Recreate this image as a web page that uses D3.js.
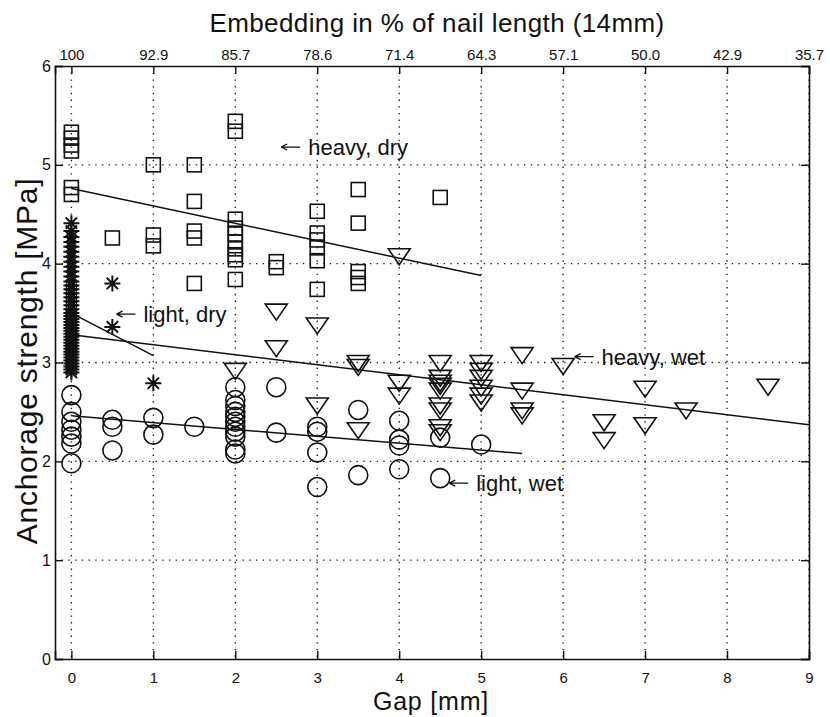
<!DOCTYPE html>
<html>
<head>
<meta charset="utf-8">
<script src="https://cdn.jsdelivr.net/npm/d3@7"></script>
<style>
    body { margin: 0; background: #fff; }
    text { font-family: "Liberation Sans", Arial, sans-serif; fill: #111; }
</style>
</head>
<body>
<svg id="gfx" width="830" height="717"></svg>
<script>
// gap [mm] and anchorage strength [MPa] per series
const heavyDryGap = [0, 0, 0, 0, 0, 0, 0.5, 1, 1, 1, 1.5, 1.5, 1.5, 1.5, 1.5,
    2, 2, 2, 2, 2, 2, 2, 2, 2, 2, 2.5, 2.5, 3, 3, 3, 3, 3, 3, 3.5, 3.5, 3.5, 3.5, 3.5, 4.5];
const heavyDryVal = [5.33, 5.27, 5.2, 5.14, 4.77, 4.7, 4.26, 5.0, 4.29, 4.18, 5.0, 4.63, 4.33, 4.26, 3.8,
    5.44, 5.34, 4.45, 4.36, 4.3, 4.22, 4.15, 4.09, 4.04, 3.84, 4.02, 3.96, 4.53, 4.31, 4.24, 4.16, 4.03, 3.74,
    4.75, 4.41, 3.92, 3.86, 3.8, 4.67];

const lightDryGap = [0, 0, 0, 0, 0, 0, 0, 0, 0, 0, 0, 0, 0, 0, 0, 0, 0, 0, 0, 0,
    0, 0, 0, 0, 0, 0, 0, 0, 0, 0, 0, 0, 0, 0, 0, 0, 0, 0, 0, 0,
    0.5, 0.5, 1];
const lightDryVal = [4.41, 4.33, 4.27, 4.22, 4.17, 4.12, 4.07, 4.02, 3.97, 3.92, 3.87, 3.82, 3.78, 3.74, 3.7,
    3.66, 3.62, 3.58, 3.54, 3.5, 3.47, 3.44, 3.41, 3.38, 3.35, 3.32, 3.29, 3.26, 3.23, 3.2,
    3.17, 3.14, 3.11, 3.08, 3.05, 3.02, 2.99, 2.96, 2.93, 2.9,
    3.8, 3.36, 2.79];

const heavyWetGap = [2, 2.5, 2.5, 3, 3, 3.5, 3.5, 3.5, 4, 4, 4,
    4.5, 4.5, 4.5, 4.5, 4.5, 4.5, 4.5, 4.5, 4.5, 5, 5, 5, 5, 5, 5,
    5.5, 5.5, 5.5, 5.5, 6, 6.5, 6.5, 7, 7, 7.5, 8.5];
const heavyWetVal = [2.92, 3.52, 3.15, 3.38, 2.57, 3.0, 2.96, 2.32, 4.08, 2.8, 2.67,
    3.0, 2.85, 2.8, 2.77, 2.72, 2.57, 2.52, 2.35, 2.3, 3.0, 2.92, 2.85, 2.75, 2.67, 2.6,
    3.08, 2.72, 2.52, 2.47, 2.97, 2.4, 2.22, 2.74, 2.37, 2.52, 2.76];

const lightWetGap = [0, 0, 0, 0, 0, 0, 0, 0.5, 0.5, 0.5, 1, 1, 1.5,
    2, 2, 2, 2, 2, 2, 2, 2, 2, 2, 2, 2.5, 2.5, 3, 3, 3, 3, 3.5, 3.5,
    4, 4, 4, 4, 4.5, 4.5, 5];
const lightWetVal = [2.67, 2.5, 2.4, 2.32, 2.25, 2.18, 1.98, 2.42, 2.35, 2.11, 2.44, 2.27, 2.35,
    2.75, 2.62, 2.56, 2.5, 2.45, 2.4, 2.35, 2.3, 2.25, 2.12, 2.08, 2.75, 2.29, 2.35, 2.3, 2.09, 1.74, 2.52, 1.86,
    2.41, 2.22, 2.16, 1.92, 2.24, 1.83, 2.17];

// fitted lines: [gap start, gap end], [value start, value end]
const fitHeavyDry = [[0, 5], [4.76, 3.88]];
const fitLightDry = [[0, 1], [3.5, 3.07]];
const fitHeavyWet = [[0, 9], [3.28, 2.37]];
const fitLightWet = [[0, 5.5], [2.46, 2.08]];

// labels and where their arrows point (gap, value)
const noteText = ["heavy, dry", "light, dry", "heavy, wet", "light, wet"];
const noteGap = [2.56, 0.55, 6.14, 4.61];
const noteVal = [5.18, 3.49, 3.06, 1.78];

const gapTicks = [0, 1, 2, 3, 4, 5, 6, 7, 8, 9];
const embedLabels = ["100", "92.9", "85.7", "78.6", "71.4", "64.3", "57.1", "50.0", "42.9", "35.7"];
const valueTicks = [0, 1, 2, 3, 4, 5, 6];

const gfx = { left: 55, right: 809, top: 66, bottom: 659 };
const svg = d3.select("#gfx");

const x = d3.scaleLinear().domain([-0.2, 9]).range([gfx.left, gfx.right]);
const y = d3.scaleLinear().domain([0, 6]).range([gfx.bottom, gfx.top]);

// dotted grid
const grid = svg.append("g").attr("stroke", "#222").attr("stroke-width", 1.4)
    .attr("stroke-dasharray", "1.4,5.3");
grid.selectAll("line.gx").data(gapTicks).enter().append("line")
    .attr("x1", d => x(d)).attr("x2", d => x(d))
    .attr("y1", gfx.top).attr("y2", gfx.bottom);
grid.selectAll("line.gy").data(valueTicks.slice(1, -1)).enter().append("line")
    .attr("x1", gfx.left).attr("x2", gfx.right)
    .attr("y1", d => y(d)).attr("y2", d => y(d));

// axes, ticks pointing inward
const tick = 8;
const axBottom = svg.append("g").attr("transform", "translate(0," + gfx.bottom + ")")
    .call(d3.axisBottom(x).tickValues(gapTicks).tickSize(-tick).tickPadding(13));
const axTop = svg.append("g").attr("transform", "translate(0," + gfx.top + ")")
    .call(d3.axisTop(x).tickValues(gapTicks).tickSize(-tick).tickPadding(6)
        .tickFormat((d, i) => embedLabels[i]));
const axLeft = svg.append("g").attr("transform", "translate(" + gfx.left + ",0)")
    .call(d3.axisLeft(y).tickValues(valueTicks).tickSize(-tick).tickPadding(4)
        .tickFormat(d3.format("d")));
const axRight = svg.append("g").attr("transform", "translate(" + gfx.right + ",0)")
    .call(d3.axisRight(y).tickValues(valueTicks).tickSize(-tick).tickFormat(""));

[axBottom, axTop, axLeft, axRight].forEach(a => {
    a.selectAll("path.domain").attr("stroke", "#111").attr("stroke-width", 1.6);
    a.selectAll(".tick line").attr("stroke", "#111").attr("stroke-width", 1.4);
    a.selectAll(".tick text").attr("font-size", 15).attr("font-family", "Liberation Sans, Arial, sans-serif")
        .attr("fill", "#111");
});
axLeft.selectAll(".tick text").attr("font-size", 16);

// markers
const plot = svg.append("g").attr("fill", "none").attr("stroke", "#111").attr("stroke-width", 1.6);

const pairs = (g, v) => g.map((d, i) => [d, v[i]]);

plot.selectAll("rect.sq").data(pairs(heavyDryGap, heavyDryVal)).enter().append("rect")
    .attr("x", d => x(d[0]) - 7).attr("y", d => y(d[1]) - 7)
    .attr("width", 14).attr("height", 14);

plot.selectAll("circle.c").data(pairs(lightWetGap, lightWetVal)).enter().append("circle")
    .attr("cx", d => x(d[0])).attr("cy", d => y(d[1])).attr("r", 9.5);

plot.selectAll("path.tri").data(pairs(heavyWetGap, heavyWetVal)).enter().append("path")
    .attr("d", d => {
        const cx = x(d[0]), cy = y(d[1]);
        return "M" + (cx - 11) + "," + (cy - 7) + "L" + (cx + 11) + "," + (cy - 7) + "L" + cx + "," + (cy + 9) + "Z";
    });

// eight-armed asterisk
const asterisk = {
    draw(ctx, size) {
        const r = Math.sqrt(size) / 2;
        for (let k = 0; k < 4; ++k) {
            const a = k * Math.PI / 4;
            ctx.moveTo(-r * Math.cos(a), -r * Math.sin(a));
            ctx.lineTo(r * Math.cos(a), r * Math.sin(a));
        }
    }
};
plot.selectAll("path.star").data(pairs(lightDryGap, lightDryVal)).enter().append("path")
    .attr("transform", d => "translate(" + x(d[0]) + "," + y(d[1]) + ")")
    .attr("d", d3.symbol().type(asterisk).size(256))
    .attr("stroke-width", 2);

// fitted lines
const fits = [fitHeavyDry, fitLightDry, fitHeavyWet, fitLightWet];
plot.selectAll("line.fit").data(fits).enter().append("line")
    .attr("x1", d => x(d[0][0])).attr("x2", d => x(d[0][1]))
    .attr("y1", d => y(d[1][0])).attr("y2", d => y(d[1][1]))
    .attr("stroke-width", 1.5);

// annotations with arrows
const notes = svg.append("g").selectAll("g.note")
    .data(noteText.map((t, i) => ({ t: t, g: noteGap[i], v: noteVal[i] })))
    .enter().append("g")
    .attr("transform", d => "translate(" + x(d.g) + "," + y(d.v) + ")");
notes.append("path")
    .attr("d", "M0,0L19,0M0,0L6,-3M0,0L6,3")
    .attr("fill", "none").attr("stroke", "#111").attr("stroke-width", 1.3);
notes.append("text")
    .attr("x", 27).attr("y", 8)
    .attr("font-size", 22)
    .text(d => d.t);

// titles
svg.append("text").attr("x", 437).attr("y", 32).attr("text-anchor", "middle")
    .attr("font-size", 26).attr("letter-spacing", 0.4)
    .text("Embedding in % of nail length (14mm)");
svg.append("text").attr("x", 431).attr("y", 710).attr("text-anchor", "middle")
    .attr("font-size", 25).attr("letter-spacing", 0.8).text("Gap [mm]");
svg.append("text").attr("transform", "translate(37,361) rotate(-90)").attr("text-anchor", "middle")
    .attr("font-size", 30).attr("letter-spacing", 0.75).text("Anchorage strength [MPa]");
</script>
</body>
</html>
